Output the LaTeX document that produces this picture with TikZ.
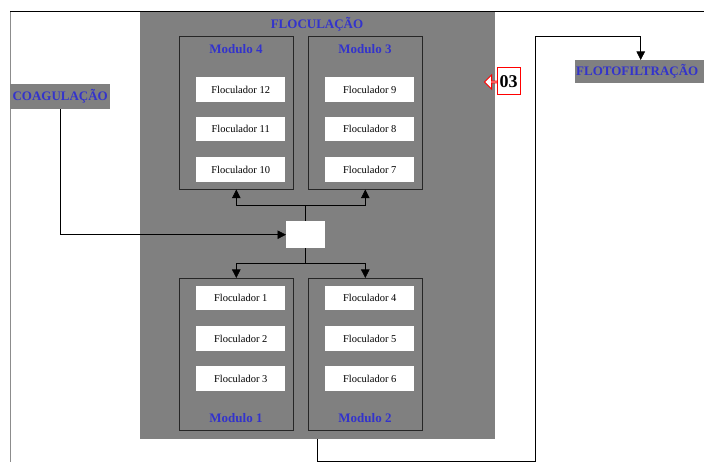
\documentclass[tikz,border=0pt]{standalone}
\usepackage{fontspec}
\setmainfont{Liberation Serif}
\usetikzlibrary{arrows.meta,positioning,shapes.arrows}
\definecolor{procgray}{HTML}{808080}
\definecolor{lblblue}{HTML}{3333CC}

\begin{document}
\begin{tikzpicture}[x=1pt,y=1pt]

\tikzset{
  panel/.style  = {fill=procgray, inner sep=0pt, anchor=north west},
  modbox/.style = {draw=black!85, line width=0.6pt, minimum width=114,
                   minimum height=153, inner sep=0pt, anchor=north west},
  floc/.style   = {fill=white, minimum width=89, minimum height=24.5,
                   inner sep=0pt, anchor=north west, font=\fontsize{10.5}{12}\selectfont},
  ttl/.style    = {text=lblblue, font=\bfseries\fontsize{13}{15}\selectfont, inner sep=1pt},
  flow/.style   = {-{Triangle[length=8.5pt,width=8.5pt]}, line width=0.6pt},
}

\useasboundingbox (0,0) rectangle (704,-462);

\node[panel, minimum width=355, minimum height=427.5] (p) at (140,-11) {};
\draw[black!45, line width=0.7pt] (10,-462) -- (10,-11);
\draw[line width=0.7pt] (10,-11) -- (704,-11);
\node[ttl] (pt) at (317,-24) {FLOCULAÇÃO};

\node[modbox] (m4) at (179,-36) {};
\node[modbox] (m3) at (308,-36) {};
\node[modbox, minimum height=152] (m1) at (179,-278) {};
\node[modbox, minimum height=152] (m2) at (308,-278) {};
\node[ttl] (m4t) at (236,-49) {Modulo 4};
\node[ttl] (m3t) at (365,-49) {Modulo 3};
\node[ttl] (m1t) at (236,-418) {Modulo 1};
\node[ttl] (m2t) at (365,-418) {Modulo 2};

\node[floc] (f12) at (196,-77) {Floculador 12};
\node[floc] (f11) at (196,-116.5) {Floculador 11};
\node[floc] (f10) at (196,-157) {Floculador 10};
\node[floc] (f9) at (325,-77) {Floculador 9};
\node[floc] (f8) at (325,-116.5) {Floculador 8};
\node[floc] (f7) at (325,-157) {Floculador 7};
\node[floc] (f1) at (196,-285.5) {Floculador 1};
\node[floc] (f2) at (196,-326) {Floculador 2};
\node[floc] (f3) at (196,-366) {Floculador 3};
\node[floc] (f4) at (325,-285.5) {Floculador 4};
\node[floc] (f5) at (325,-326) {Floculador 5};
\node[floc] (f6) at (325,-366) {Floculador 6};

\node[fill=white, minimum width=39, minimum height=27, inner sep=0pt, anchor=north west] (jn) at (286,-221) {};

\node[fill=procgray, minimum width=100, minimum height=25, inner sep=0pt, anchor=north west, ttl] (coag) at (10,-84) {COAGULAÇÃO};
\node[fill=procgray, minimum height=23, inner ysep=0pt, inner xsep=2pt, text width=129,
      align=left, anchor=north west, ttl] (flot) at (575,-60) {FLOTOFILTRAÇÃO};

\node[single arrow, draw=red, line width=1pt, fill=white, shape border rotate=180,
      minimum height=13, minimum width=14, single arrow head extend=4pt,
      inner sep=0pt, anchor=tail] (ptr) at (498,-82) {};
\node[draw=red, line width=1pt, fill=white, minimum width=23, minimum height=27, inner sep=0pt,
      font=\bfseries\fontsize{18}{20}\selectfont] (tag) at (508.5,-81.5) {03};

\draw[flow] (jn.north) -- ++(0,16) -| (m4.south);
\draw[flow] (jn.north) -- ++(0,16) -| (m3.south);
\draw[flow] (jn.south) -- ++(0,-15) -| (m1.north);
\draw[flow] (jn.south) -- ++(0,-15) -| (m2.north);
\draw[flow] (coag.south) |- (jn.west);

\coordinate (bend) at (535,-36);
\draw[flow] (p.south) -- ++(0,-22) -| (bend) -| (flot.north);

\end{tikzpicture}
\end{document}
